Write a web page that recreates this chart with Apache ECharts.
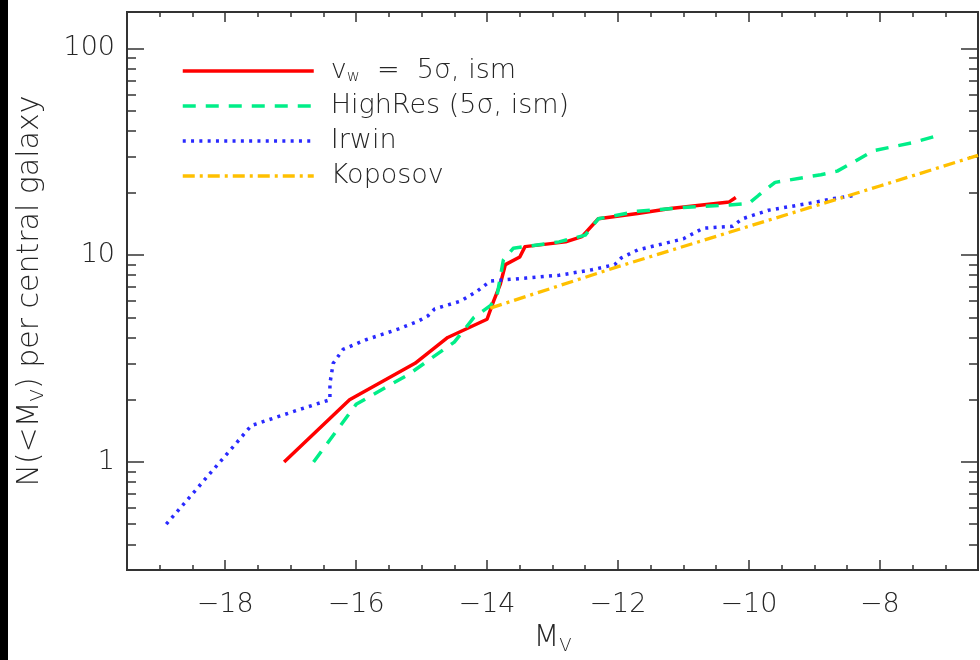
<!DOCTYPE html>
<html><head><meta charset="utf-8">
<script src="https://cdn.jsdelivr.net/npm/echarts@6/dist/echarts.min.js"></script>
<style>html,body{margin:0;padding:0;background:#fff}#c{width:980px;height:660px}</style>
</head><body><div id="c"></div>
<script>
// ---- data ----
const seriesNames = ['v_w = 5σ, ism', 'HighRes (5σ, ism)', 'Irwin', 'Koposov'];
const vwIsm = [[-17.1,1.0],[-16.1,2.0],[-15.1,3.0],[-14.6,4.0],[-14.0,4.9],[-13.9,6.0],[-13.8,7.2],[-13.72,9.0],[-13.5,9.8],[-13.42,11.0],[-12.8,11.6],[-12.55,12.3],[-12.3,15.0],[-11.7,15.9],[-11.2,16.8],[-10.3,18.1],[-10.2,19.0]];
const highRes = [[-16.65,1.0],[-16.0,1.9],[-15.2,2.65],[-14.5,3.8],[-14.2,5.0],[-13.95,5.7],[-13.85,6.3],[-13.75,9.5],[-13.6,10.8],[-12.9,11.6],[-12.5,12.5],[-12.3,15.0],[-11.7,16.3],[-11.0,17.0],[-10.3,17.5],[-10.0,17.8],[-9.85,19.5],[-9.6,22.5],[-8.9,24.5],[-8.65,25.5],[-8.4,28.2],[-8.1,32],[-7.5,35],[-7.1,38]];
const irwin = [[-18.9,0.5],[-17.6,1.5],[-16.85,1.8],[-16.4,2.0],[-16.4,2.4],[-16.35,3.0],[-16.2,3.5],[-15.85,3.9],[-15.35,4.4],[-15.05,4.8],[-14.9,5.1],[-14.8,5.5],[-14.4,6.0],[-14.15,6.7],[-13.95,7.5],[-13.4,7.75],[-12.9,8.0],[-12.4,8.5],[-12.05,9.0],[-11.95,9.7],[-11.7,10.6],[-11.0,12.0],[-10.7,13.5],[-10.25,13.8],[-10.1,15.0],[-9.7,16.5],[-9.0,18.0],[-8.7,18.8],[-8.35,19.5]];
const koposov = [[-13.95,5.55],[-12.0,8.8],[-10.0,13.8],[-8.0,21.6],[-6.5,30.4]];

const xMajorTicks = [-18,-16,-14,-12,-10,-8];
const xMinorTicks = [-19,-18.5,-17.5,-17,-16.5,-15.5,-15,-14.5,-13.5,-13,-12.5,-11.5,-11,-10.5,-9.5,-9,-8.5,-7.5,-7];
const yMajorTicks = [1,10,100];
const yMinorTicks = [0.4,0.5,0.6,0.7,0.8,0.9,2,3,4,5,6,7,8,9,20,30,40,50,60,70,80,90];

const X_MIN = -19.5, X_MAX = -6.5, Y_MIN = 0.3, Y_MAX = 150;

// ---- styling ----
const AX = '#333';
const TXT = '#262626';
const FONT = 'DejaVu Sans';
const FW = 200;
const colors = ['#ff0000', '#00ee88', '#2a2aff', '#ffc000'];

const nameRich = {
  m: {fontSize: 30, lineHeight: 34, color: TXT, fontFamily: FONT, fontWeight: FW},
  s: {fontSize: 18, lineHeight: 9, verticalAlign: 'bottom', color: TXT, fontFamily: FONT, fontWeight: FW}
};

function xAx(pos, ticks, len, withLabels, name) {
  return {
    type: 'value', position: pos, min: X_MIN, max: X_MAX,
    splitLine: {show: false},
    axisLine: {show: true, onZero: false, lineStyle: {color: AX, width: 2}},
    axisTick: {show: true, inside: true, length: len, customValues: ticks, lineStyle: {color: AX, width: 1.5}},
    axisLabel: withLabels ? {show: true, customValues: ticks, margin: 21, color: TXT, fontFamily: FONT, fontWeight: FW, fontSize: 27,
      formatter: v => '\u2212' + Math.abs(v)} : {show: false},
    name: name || '', nameLocation: 'middle', nameGap: 50,
    nameTextStyle: {color: TXT, fontFamily: FONT, fontSize: 30, rich: nameRich}
  };
}
function yAx(pos, ticks, len, withLabels, name) {
  return {
    type: 'log', logBase: 10, position: pos, min: Y_MIN, max: Y_MAX,
    splitLine: {show: false}, minorTick: {show: false},
    axisLine: {show: true, onZero: false, lineStyle: {color: AX, width: 2}},
    axisTick: {show: true, inside: true, length: len, customValues: ticks, lineStyle: {color: AX, width: 1.5}},
    axisLabel: withLabels ? {show: true, customValues: ticks, margin: 12, color: TXT, fontFamily: FONT, fontWeight: FW, fontSize: 27,
      formatter: v => String(v)} : {show: false},
    name: name || '', nameLocation: 'middle', nameGap: 80, nameRotate: 90,
    nameTextStyle: {color: TXT, fontFamily: FONT, fontSize: 30, rich: nameRich}
  };
}

const styles = [
  {type: 'solid', width: 3.5},
  {type: [13, 10], width: 3.5},
  {type: [3, 5.3], width: 3.5},
  {type: [12, 5, 3, 5], width: 3.3}
];
const datasets = [vwIsm, highRes, irwin, koposov];

const option = {
  animation: false,
  backgroundColor: '#fff',
  grid: {left: 127, top: 12, right: 2, bottom: 87, containLabel: false},
  graphic: [{type: 'rect', left: 0, top: 0, z: 100, shape: {width: 8, height: 660}, style: {fill: '#000'}}],
  legend: {
    orient: 'vertical', left: 181, top: 57, padding: 0,
    itemWidth: 131, itemHeight: 20, itemGap: 7,
    data: seriesNames,
    itemStyle: {opacity: 0},
    lineStyle: {width: 3.5},
    textStyle: {color: TXT, fontFamily: FONT, fontSize: 27, lineHeight: 28,
      rich: {
        g: {width: 12},
        m: {fontSize: 27, lineHeight: 28, color: TXT, fontFamily: FONT, fontWeight: FW},
        s: {fontSize: 16, lineHeight: 10, verticalAlign: 'bottom', color: TXT, fontFamily: FONT, fontWeight: FW}
      }},
    formatter: function (name) {
      if (name === seriesNames[0]) return '{g|}{m|v}{s|w}{m|  =  5σ, ism}';
      return '{g|}{m|' + name + '}';
    }
  },
  xAxis: [
    xAx('bottom', xMajorTicks, 10, true, '{m|M}{s|V}'),
    xAx('bottom', xMinorTicks, 5, false),
    xAx('top', xMajorTicks, 10, false),
    xAx('top', xMinorTicks, 5, false)
  ],
  yAxis: [
    yAx('left', yMajorTicks, 17, true, '{m|N(<M}{s|V}{m|) per central galaxy}'),
    yAx('left', yMinorTicks, 9, false),
    yAx('right', yMajorTicks, 17, false),
    yAx('right', yMinorTicks, 9, false)
  ],
  series: seriesNames.map((n, i) => ({
    name: n, type: 'line', xAxisIndex: 0, yAxisIndex: 0,
    data: datasets[i], symbol: 'none', smooth: false, clip: true,
    color: colors[i],
    lineStyle: {color: colors[i], width: styles[i].width, type: styles[i].type, cap: 'butt', join: 'round'}
  }))
};
const chart = echarts.init(document.getElementById('c'));
chart.setOption(option);
</script>
</body></html>
